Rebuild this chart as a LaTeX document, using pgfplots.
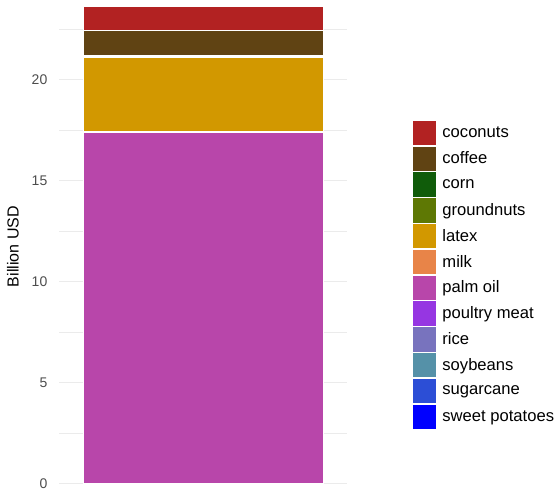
\documentclass[border=0pt]{standalone}
\usepackage{pgfplots}
\pgfplotsset{compat=1.18}
\usepackage{fontspec}
\setmainfont{Liberation Sans}
\definecolor{cCoconuts}{RGB}{178,34,34}
\definecolor{cCoffee}{RGB}{96,67,19}
\definecolor{cCorn}{RGB}{16,92,10}
\definecolor{cGround}{RGB}{94,120,4}
\definecolor{cLatex}{RGB}{210,152,0}
\definecolor{cMilk}{RGB}{232,132,72}
\definecolor{cPalm}{RGB}{184,70,170}
\definecolor{cPoultry}{RGB}{150,54,226}
\definecolor{cRice}{RGB}{120,115,190}
\definecolor{cSoy}{RGB}{85,145,168}
\definecolor{cSugar}{RGB}{44,78,214}
\definecolor{cSweet}{RGB}{0,0,255}
\definecolor{gridgrey}{RGB}{235,235,235}
\definecolor{tickgrey}{RGB}{77,77,77}
\pgfplotsset{
  sqleg/.style={legend image code/.code={\draw[##1,draw=white,line width=0.5pt] (0pt,-12.65pt) rectangle (24.4pt,12.65pt);}},
  seg/.style={fill=#1, draw=white, line width=0.6pt, sqleg},
}
\begin{document}
\begin{tikzpicture}[x=1pt,y=1pt]
\useasboundingbox (0,0) rectangle (560,495);
\begin{axis}[
  at={(59pt,1pt)}, anchor=south west,
  scale only axis, width=288pt, height=494.9pt,
  xmin=-0.6, xmax=0.6, ymin=-0.5, ymax=24,
  ybar stacked, bar width=1, bar shift=0pt,
  axis line style={draw=none},
  major tick length=0pt, minor tick length=0pt,
  xtick=\empty,
  ytick={0,5,10,15,20},
  minor ytick={2.5,7.5,12.5,17.5,22.5},
  ymajorgrids, yminorgrids,
  major grid style={color=gridgrey, line width=1.1pt},
  minor grid style={color=gridgrey, line width=0.55pt},
  /pgf/number format/assume math mode=true,
  yticklabel style={font=\fontsize{14}{16}\selectfont, color=tickgrey, inner sep=0pt, xshift=-11.5pt},
  ylabel={Billion USD},
  ylabel style={font=\fontsize{16}{19}\selectfont, at={(axis description cs:-0.1597,0.5)}, rotate=0, anchor=center},
  reverse legend,
  legend cell align=left,
  legend style={at={(axis description cs:1.2240,0.7560)}, anchor=north west,
    draw=none, fill=none, inner sep=0pt, outer sep=0pt, row sep=0pt, column sep=0pt,
    font=\fontsize{16.6}{19}\selectfont,
    nodes={inner xsep=6pt, inner ysep=0pt}},
]
\addplot[seg=cSweet] coordinates {(0,0.003)}; \addlegendentry{sweet potatoes}
\addplot[seg=cSugar] coordinates {(0,0.003)}; \addlegendentry{sugarcane}
\addplot[seg=cSoy] coordinates {(0,0.005)}; \addlegendentry{soybeans}
\addplot[seg=cRice] coordinates {(0,0.005)}; \addlegendentry{rice}
\addplot[seg=cPoultry] coordinates {(0,0.005)}; \addlegendentry{poultry meat}
\addplot[seg=cPalm] coordinates {(0,17.37)}; \addlegendentry{palm oil}
\addplot[seg=cMilk] coordinates {(0,0.07)}; \addlegendentry{milk}
\addplot[seg=cLatex] coordinates {(0,3.68)}; \addlegendentry{latex}
\addplot[seg=cGround] coordinates {(0,0.03)}; \addlegendentry{groundnuts}
\addplot[seg=cCorn] coordinates {(0,0.04)}; \addlegendentry{corn}
\addplot[seg=cCoffee] coordinates {(0,1.26)}; \addlegendentry{coffee}
\addplot[seg=cCoconuts] coordinates {(0,1.18)}; \addlegendentry{coconuts}
\end{axis}
\end{tikzpicture}
\end{document}
